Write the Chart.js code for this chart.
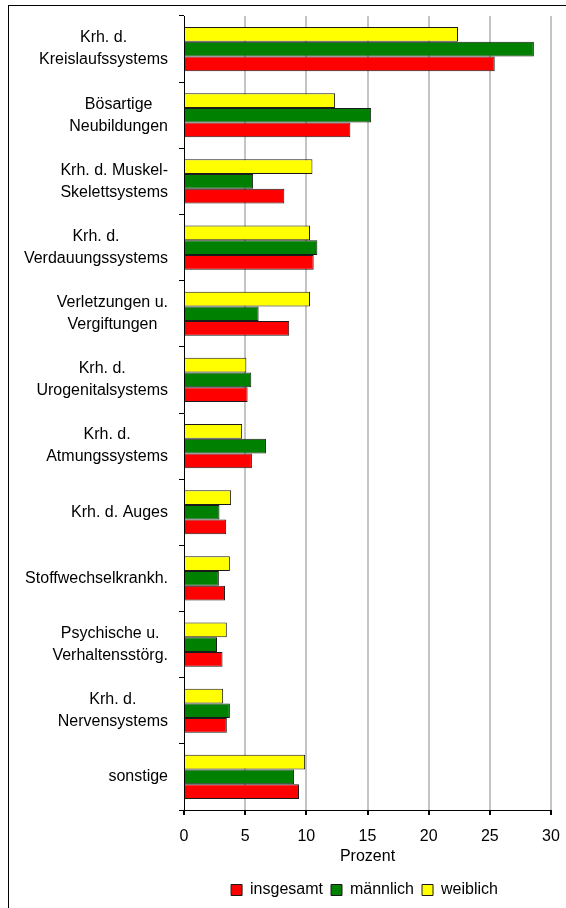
<!DOCTYPE html>
<html><head><meta charset="utf-8">
<script src="https://cdn.jsdelivr.net/npm/chart.js@4.4.1/dist/chart.umd.min.js"></script>
<style>html,body{margin:0;padding:0;background:#fff;}#wrap{width:566px;height:908px;}</style>
</head><body><div id="wrap"><canvas id="c" width="566" height="908"></canvas></div>
<script>
const categories = [
  ["Krh. d.", "Kreislaufssystems"],
  ["Bösartige", "Neubildungen"],
  ["Krh. d. Muskel-", "Skelettsystems"],
  ["Krh. d.", "Verdauungssystems"],
  ["Verletzungen u.", "Vergiftungen"],
  ["Krh. d.", "Urogenitalsystems"],
  ["Krh. d.", "Atmungssystems"],
  ["Krh. d. Auges"],
  ["Stoffwechselkrankh."],
  ["Psychische u.", "Verhaltensstörg."],
  ["Krh. d.", "Nervensystems"],
  ["sonstige"]
];
const insgesamt = [25.4, 13.6, 8.2, 10.6, 8.6, 5.2, 5.55, 3.45, 3.35, 3.15, 3.5, 9.4];
const maennlich = [28.6, 15.3, 5.65, 10.9, 6.1, 5.5, 6.7, 2.9, 2.85, 2.7, 3.75, 9.0];
const weiblich  = [22.4, 12.35, 10.5, 10.3, 10.3, 5.1, 4.75, 3.85, 3.75, 3.5, 3.2, 9.9];
const xTicks = [0, 5, 10, 15, 20, 25, 30];
const xTitle = "Prozent";

const FONT = '"Liberation Sans", Arial, sans-serif';
Chart.defaults.font.family = FONT;
Chart.defaults.font.size = 16;
Chart.defaults.color = '#000';

const frame = {
  id: 'frame',
  beforeDraw(chart) {
    const c = chart.ctx;
    c.save();
    c.fillStyle = '#fff';
    c.fillRect(0, 0, chart.width, chart.height);
    c.strokeStyle = '#000';
    c.lineWidth = 1;
    c.strokeRect(8.5, 5.5, chart.width + 10, chart.height + 10);
    c.restore();
  }
};
const catLabels = {
  id: 'catLabels',
  afterDraw(chart) {
    const y = chart.scales.y;
    const c = chart.ctx;
    c.save();
    c.font = '16px ' + FONT;
    c.fillStyle = '#000';
    c.textBaseline = 'middle';
    c.textAlign = 'center';
    const right = y.right - 16;
    chart.data.labels.forEach((lines, i) => {
      const p = y.getPixelForTick(i);
      const w = Math.max(...lines.map(l => c.measureText(l).width));
      const cx = right - w / 2;
      const lh = 22;
      lines.forEach((l, j) => c.fillText(l, cx, p + (j - (lines.length - 1) / 2) * lh));
    });
    c.restore();
  }
};

new Chart(document.getElementById('c'), {
  type: 'bar',
  data: {
    labels: categories,
    datasets: [
      { label: 'weiblich', data: weiblich, backgroundColor: '#ffff00', borderColor: '#1a1a1a', borderWidth: 1 },
      { label: 'männlich', data: maennlich, backgroundColor: '#008000', borderColor: '#1a1a1a', borderWidth: 1 },
      { label: 'insgesamt', data: insgesamt, backgroundColor: '#ff0000', borderColor: '#1a1a1a', borderWidth: 1 }
    ]
  },
  options: {
    indexAxis: 'y',
    responsive: false,
    animation: false,
    devicePixelRatio: 1,
    categoryPercentage: 0.667,
    barPercentage: 1.0,
    layout: { padding: { top: 16, right: 15, left: 178, bottom: 0 } },
    scales: {
      x: {
        min: 0, max: 30,
        afterBuildTicks(scale) { scale.ticks = xTicks.map(v => ({ value: v })); },
        afterFit(scale) { scale.height = 64; },
        grid: {
          color: ctx => (ctx.tick && ctx.tick.value === 0) ? 'rgba(0,0,0,0)' : '#c4c4c4',
          lineWidth: 2,
          tickColor: '#000',
          tickLength: 5,
          drawTicks: true
        },
        border: { color: '#000', width: 1 },
        ticks: { padding: 4, color: '#000', font: { size: 16, lineHeight: 2.25 } },
        title: { display: true, text: xTitle, color: '#000', font: { size: 16 }, padding: { top: 3, bottom: 8 } }
      },
      y: {
        afterFit(scale) { scale.width = 6; },
        grid: { offset: true, drawOnChartArea: false, tickColor: '#000', tickLength: 5, drawTicks: true },
        border: { color: '#000', width: 1 },
        ticks: { display: false }
      }
    },
    plugins: {
      legend: {
        position: 'bottom',
        reverse: true,
        labels: { boxWidth: 11, boxHeight: 11, padding: 8, color: '#000', font: { size: 16 } }
      },
      tooltip: { enabled: false }
    }
  },
  plugins: [frame, catLabels]
});
</script>
</body></html>
